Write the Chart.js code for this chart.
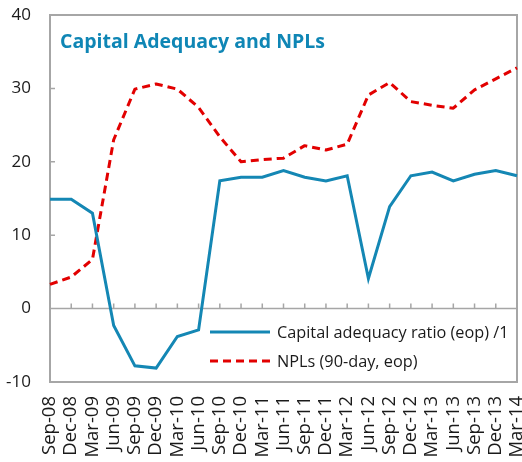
<!DOCTYPE html>
<html>
<head>
<title>Capital Adequacy and NPLs</title>
<script src="https://cdn.jsdelivr.net/npm/chart.js"></script>
<style>
    body { margin: 0; background: #fff; }
    #wrap { width: 522px; height: 462px; }
</style>
</head>
<body>
<div id="wrap"><canvas id="myChart" width="522" height="462"></canvas></div>
<script>
// Data
var quarters = ['Sep-08', 'Dec-08', 'Mar-09', 'Jun-09', 'Sep-09', 'Dec-09', 'Mar-10', 'Jun-10',
    'Sep-10', 'Dec-10', 'Mar-11', 'Jun-11', 'Sep-11', 'Dec-11', 'Mar-12', 'Jun-12',
    'Sep-12', 'Dec-12', 'Mar-13', 'Jun-13', 'Sep-13', 'Dec-13', 'Mar-14'];
var capitalAdequacy = [14.9, 14.9, 13.0, -2.3, -7.8, -8.1, -3.8, -2.9,
    17.4, 17.9, 17.9, 18.8, 17.9, 17.4, 18.1, 4.1,
    13.9, 18.1, 18.6, 17.4, 18.3, 18.8, 18.1];
var npls = [3.3, 4.3, 6.7, 23.0, 29.9, 30.6, 29.9, 27.4,
    23.4, 20.0, 20.3, 20.5, 22.2, 21.6, 22.4, 29.1,
    30.8, 28.2, 27.7, 27.3, 29.8, 31.3, 32.8];
var yMin = -10, yMax = 40, yStep = 10;

var chartTitle = 'Capital Adequacy and NPLs';
var seriesNames = ['Capital adequacy ratio (eop) /1', 'NPLs (90-day, eop)'];

var blue = '#1487b4';
var red = '#e20000';
var frameGray = '#a6a6a6';
var font = '"Open Sans", "Noto Sans", sans-serif';

// frame, zero line and inside tick marks, drawn under the lines
var framePlugin = {
    id: 'frame',
    beforeDatasetsDraw: function(chart) {
        var c = chart.ctx, a = chart.chartArea;
        var x = chart.scales.x, y = chart.scales.y;
        c.save();
        c.strokeStyle = frameGray;
        c.lineWidth = 2;
        c.strokeRect(a.left, a.top, a.right - a.left, a.bottom - a.top);

        var y0 = y.getPixelForValue(0);
        c.lineWidth = 1.5;
        c.beginPath();
        c.moveTo(a.left, y0);
        c.lineTo(a.right, y0);
        for (var i = 0; i < quarters.length; i++) {
            var px = x.getPixelForValue(i);
            c.moveTo(px, y0);
            c.lineTo(px, y0 - 5);
        }
        y.ticks.forEach(function(t) {
            var py = y.getPixelForValue(t.value);
            c.moveTo(a.left, py);
            c.lineTo(a.left + 5, py);
        });
        c.stroke();
        c.restore();
    },
    afterDraw: function(chart) {
        var c = chart.ctx, a = chart.chartArea;
        c.save();
        // title inside the plot
        c.fillStyle = '#0f86b5';
        c.font = 'bold 19.5px ' + font;
        c.textBaseline = 'middle';
        c.fillText(chartTitle, a.left + 10, a.top + 27);

        // legend, inside lower right of the plot
        var lx = 210, ly = [332, 361];
        chart.data.datasets.forEach(function(ds, i) {
            c.beginPath();
            c.strokeStyle = ds.borderColor;
            c.lineWidth = ds.borderWidth;
            c.setLineDash(ds.borderDash || []);
            c.moveTo(lx, ly[i]);
            c.lineTo(lx + 60, ly[i]);
            c.stroke();
            c.setLineDash([]);
            c.fillStyle = '#1a1a1a';
            c.font = '16.3px ' + font;
            c.fillText(ds.label, lx + 67, ly[i] + 1);
        });
        c.restore();
    }
};

var ctx = document.getElementById('myChart').getContext('2d');
var myChart = new Chart(ctx, {
    type: 'line',
    data: {
        labels: quarters,
        datasets: [{
            label: seriesNames[0],
            data: capitalAdequacy,
            borderColor: blue,
            borderWidth: 3,
            pointRadius: 0,
            tension: 0
        }, {
            label: seriesNames[1],
            data: npls,
            borderColor: red,
            borderWidth: 3,
            borderDash: [8, 5],
            borderJoinStyle: 'round',
            pointRadius: 0,
            tension: 0
        }]
    },
    options: {
        responsive: false,
        animation: false,
        layout: { padding: { top: 15, right: 5, left: 0, bottom: 0 } },
        plugins: {
            legend: { display: false },
            title: { display: false },
            tooltip: { enabled: false }
        },
        scales: {
            x: {
                type: 'category',
                offset: false,
                grid: { display: false, drawTicks: false },
                border: { display: false },
                ticks: {
                    autoSkip: false,
                    maxRotation: 90,
                    minRotation: 90,
                    padding: 14,
                    color: '#1a1a1a',
                    font: { family: font, size: 18.5 }
                },
                afterFit: function(s) {
                    s.height = 80;
                    s.paddingLeft = 0;
                    s.paddingRight = 0;
                }
            },
            y: {
                min: yMin,
                max: yMax,
                grid: { display: false, drawTicks: false },
                border: { display: false },
                ticks: {
                    stepSize: yStep,
                    padding: 19,
                    color: '#1a1a1a',
                    font: { family: font, size: 17 }
                },
                afterFit: function(s) {
                    s.width = 50;
                    s.paddingTop = 0;
                    s.paddingBottom = 0;
                }
            }
        }
    },
    plugins: [framePlugin]
});
</script>
</body>
</html>
